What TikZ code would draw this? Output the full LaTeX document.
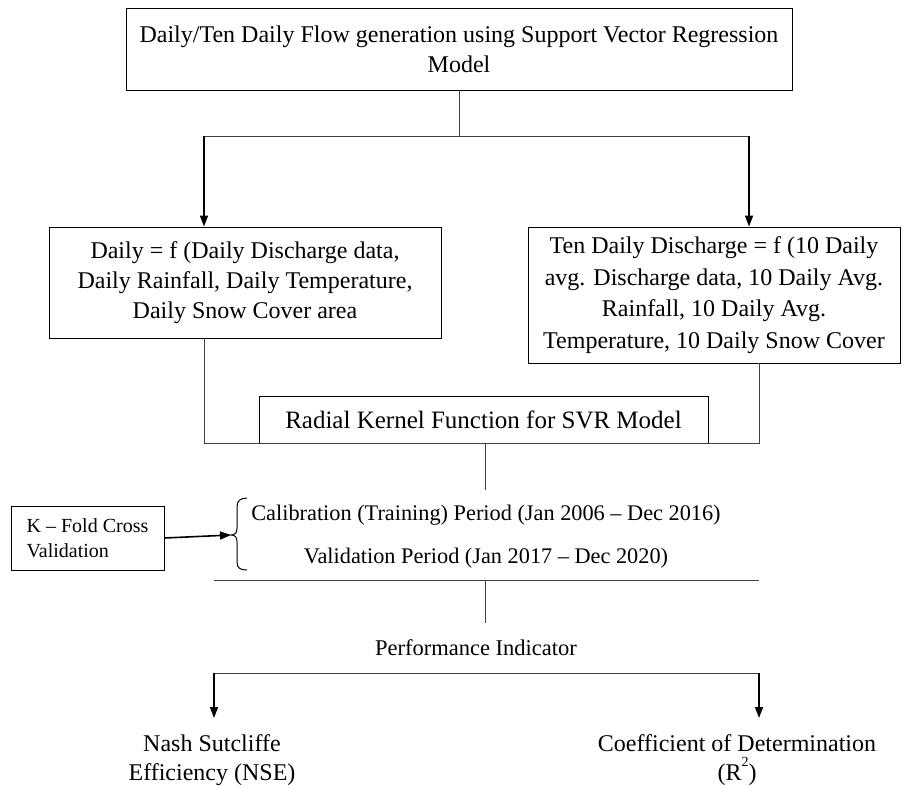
\documentclass[tikz,border=0pt]{standalone}
\usepackage{fontspec}
\setmainfont{Liberation Serif}
\usetikzlibrary{arrows.meta}
\begin{document}
\begin{tikzpicture}[x=1pt,y=-1pt,
  box/.style={draw, line width=0.9pt, inner sep=0pt, align=center},
  lbl/.style={inner sep=0pt, align=center},
  up/.style={font=\fontsize{24}{30}\selectfont},
  big/.style={font=\fontsize{24}{29}\selectfont},
  conn/.style={draw=black!75, line width=0.8pt},
  arr/.style={draw=black, line width=1.6pt, -{Triangle[length=11pt,width=8pt]}}
]
\useasboundingbox (0,0) rectangle (909,786);
% boxes
\node[box, up, minimum width=666pt, minimum height=82pt] (top) at (459,49)
  {Daily/Ten Daily Flow generation using Support Vector Regression\\Model};
\node[box, up, minimum width=392pt, minimum height=111pt] (left) at (245,282.5)
  {Daily = f (Daily Discharge data,\\Daily Rainfall, Daily Temperature,\\Daily Snow Cover area};
\node[box, font=\fontsize{24}{31.5}\selectfont, minimum width=372pt, minimum height=136pt] (right) at (714,295)
  {Ten Daily Discharge = f (10 Daily\\avg. Discharge data, 10 Daily Avg.\\Rainfall, 10 Daily Avg.\\Temperature, 10 Daily Snow Cover};
\node[box, minimum width=449pt, minimum height=47pt, font=\fontsize{25}{28}\selectfont] (rad) at (483.5,419.5)
  {Radial Kernel Function for SVR Model};
\node[box, align=left, minimum width=153pt, minimum height=64pt, font=\fontsize{20}{25}\selectfont] (kf) at (87.5,538)
  {K – Fold Cross\\Validation};
% text labels
\node[lbl, anchor=base, font=\fontsize{22.3}{28}\selectfont] (cal) at (486,520) {Calibration (Training) Period (Jan 2006 – Dec 2016)};
\node[lbl, anchor=base, font=\fontsize{22.3}{28}\selectfont] (val) at (486,563) {Validation Period (Jan 2017 – Dec 2020)};
\node[lbl, anchor=base, font=\fontsize{22.5}{28}\selectfont] (perf) at (476,655) {Performance Indicator};
\node[lbl, big, anchor=base] (nse) at (212,780) {Nash Sutcliffe\\Efficiency (NSE)};
\node[lbl, big, anchor=base] (r2) at (737,780) {Coefficient of Determination\\(R\raisebox{0.55em}{\fontsize{14}{14}\selectfont 2})};
% junction coordinates
\coordinate (jt) at (459,136);
\coordinate (jl) at (204,136);
\coordinate (jr) at (749,136);
\coordinate (bl) at (204,443);
\coordinate (br) at (759,443);
\coordinate (rc) at (485,443);
\coordinate (rd) at (485,490);
\coordinate (tip) at (231,535);
\coordinate (hl) at (214,580);
\coordinate (hr) at (759,580);
\coordinate (hc) at (485,580);
\coordinate (hd) at (485,623);
\coordinate (pl) at (214,673);
\coordinate (pr) at (759,673);
\coordinate (al) at (214,718);
\coordinate (ar) at (759,718);
% connectors
\draw[conn] (top.south) -- (jt);
\draw[conn] (jl) -- (jr);
\draw[arr] (jl) -- (jl |- left.north);
\draw[arr] (jr) -- (jr |- right.north);
\draw[conn] (bl |- left.south) -- (bl) -- (br) -- (br |- right.south);
\draw[conn] (rc) -- (rd);
% brace
\draw[line width=1pt] (247,498) .. controls (240,498) and (237,501) .. (237,507)
  -- (237,528) .. controls (237,533) and (235,535) .. (tip)
  .. controls (235,535) and (237,537) .. (237,542)
  -- (237,562) .. controls (237,568) and (240,570) .. (247,570);
\draw[arr] (kf.east) -- (tip);
\draw[conn] (hl) -- (hr);
\draw[conn] (hc) -- (hd);
\draw[conn] (pl) -- (pr);
\draw[arr] (pl) -- (al);
\draw[arr] (pr) -- (ar);
\end{tikzpicture}
\end{document}
